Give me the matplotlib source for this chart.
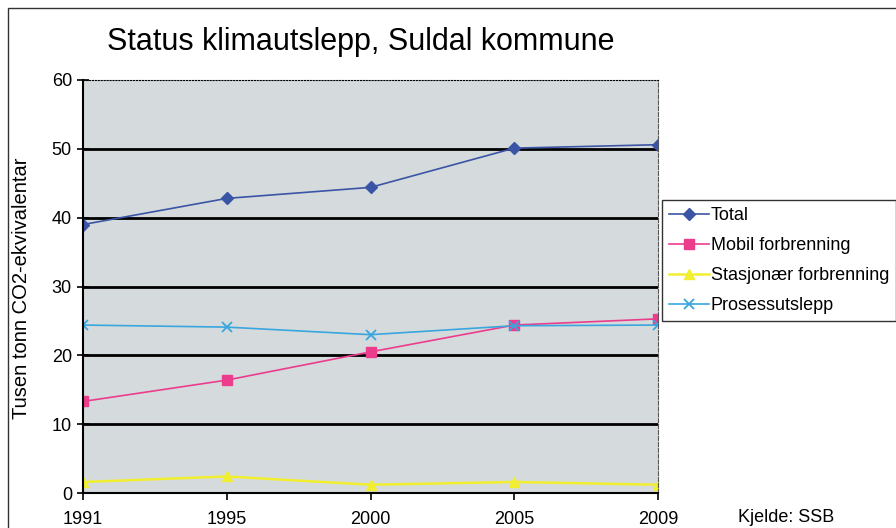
import matplotlib.pyplot as plt
from matplotlib.patches import Rectangle

# Data (thousand tonnes CO2-equivalents)
years = ["1991", "1995", "2000", "2005", "2009"]
total = [39.0, 42.8, 44.4, 50.1, 50.6]
mobil = [13.3, 16.4, 20.5, 24.4, 25.3]
stasjonaer = [1.6, 2.4, 1.2, 1.6, 1.2]
prosess = [24.4, 24.1, 23.0, 24.3, 24.4]

plt.rcParams["font.family"] = ["Liberation Sans", "DejaVu Sans"]

W, H = 896, 528
fig = plt.figure(figsize=(W / 100, H / 100), dpi=100)
fig.patch.set_facecolor("white")

# thin outer frame of the chart object
fig.patches.append(Rectangle((8 / W, -0.1), 1.2, 1 - 8 / H + 0.1, transform=fig.transFigure,
                             fill=False, edgecolor="#333333", linewidth=1.0))

ax = fig.add_axes([83 / W, 1 - 493 / H, (658 - 83) / W, (493 - 80) / H])
ax.set_facecolor("#d5dadc")

x = range(len(years))
ax.plot(x, total, color="#3b55a6", marker="D", markersize=6, linewidth=1.2, label="Total")
ax.plot(x, mobil, color="#ec3c8c", marker="s", markersize=7, linewidth=1.2, label="Mobil forbrenning")
ax.plot(x, stasjonaer, color="#f2ee30", marker="^", markersize=7, linewidth=1.8,
        label="Stasjonær forbrenning")
ax.plot(x, prosess, color="#3aa6df", marker="x", markersize=7, markeredgewidth=1.3,
        linewidth=1.2, label="Prosessutslepp")

ax.set_xlim(0, len(years) - 1)
ax.set_ylim(0, 60)
ax.set_xticks(list(x))
ax.set_xticklabels(years, fontsize=13)
ax.set_yticks(range(0, 61, 10))
ax.tick_params(axis="y", labelsize=13, direction="inout", length=8, width=1.2, pad=4)
ax.tick_params(axis="x", direction="out", length=5, width=1.2, pad=8)

for yv in range(10, 60, 10):
    ax.axhline(yv, color="black", linewidth=2.0, zorder=1)

ax.spines["left"].set_linewidth(1.5)
ax.spines["bottom"].set_linewidth(1.5)
ax.spines["top"].set_linestyle(":")
ax.spines["top"].set_linewidth(0.8)
ax.spines["right"].set_linestyle("--")
ax.spines["right"].set_linewidth(0.8)
ax.spines["right"].set_color("#555555")

fig.text(22 / W, 1 - 288 / H, "Tusen tonn CO2-ekvivalentar", rotation=90,
         ha="center", va="center", fontsize=14.5)
fig.text(361 / W, 1 - 42 / H, "Status klimautslepp, Suldal kommune",
         ha="center", va="center", fontsize=22)
fig.text(786 / W, 1 - 517 / H, "Kjelde: SSB", ha="center", va="center", fontsize=13)

leg = fig.legend(loc="upper left", bbox_to_anchor=(662 / W, 1 - 200 / H), fontsize=13,
                 frameon=True, fancybox=False, handlelength=2.2, handletextpad=0.1,
                 labelspacing=0.72, borderpad=0.4, borderaxespad=0)
leg.get_frame().set_edgecolor("black")
leg.get_frame().set_linewidth(1.0)

fig.savefig("out.png", dpi=100)
